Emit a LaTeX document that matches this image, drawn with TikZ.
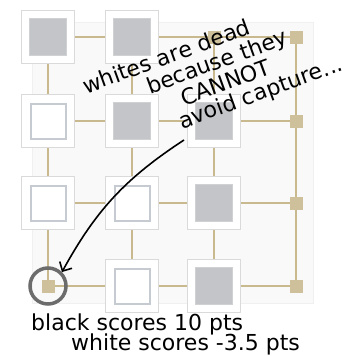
\documentclass[tikz,border=0pt]{standalone}
\usepackage{fontspec}
\setmainfont{DejaVu Sans}
\usepackage{xcolor}
\definecolor{tan}{RGB}{201,185,143}
\definecolor{stonegray}{RGB}{195,197,200}
\definecolor{rimgray}{RGB}{218,218,218}
\definecolor{rimblue}{RGB}{197,203,209}
\usetikzlibrary{arrows.meta,positioning,decorations.text}
\newcommand{\hand}{\fontsize{22}{26}\selectfont}

\tikzset{
    cell/.style={draw=rimgray, line width=1.5pt, fill=white, minimum size=53pt, inner sep=0pt},
    blackstone/.style={draw=stonegray!80, line width=1pt, fill=stonegray, minimum size=37pt, inner sep=0pt},
    whitestone/.style={draw=rimblue, line width=2pt, fill=white, minimum size=35pt, inner sep=0pt},
    post/.style={fill=tan!90, minimum size=13pt, inner sep=0pt},
    rule/.style={tan, line width=1.8pt},
    note/.style={font=\hand, anchor=base west, inner sep=0pt},
    tilted/.style={decorate, decoration={text along path, text={|\hand|#1}, text align=left}},
}

\begin{document}
\begin{tikzpicture}[x=1pt, y=1pt]
    \useasboundingbox (0,0) rectangle (349,-356);

    % Board panel
    \draw[gray!12, fill=gray!5] (32,-22) rectangle (313,-303);

    % Grid points
    \foreach \x [count=\i] in {48,132,214,296}
        \foreach \y [count=\j] in {37,121,203,286}
            \coordinate (g\j\i) at (\x,-\y);

    % Grid lines
    \foreach \j in {1,...,4} {
        \draw[rule] (g\j1) -- (g\j4);
        \draw[rule] (g1\j) -- (g4\j);
    }

    % Row 1
    \node[cell] (c11) at (g11) {}; \node[blackstone] (s11) at (c11) {};
    \node[cell] (c12) at (g12) {}; \node[blackstone] (s12) at (c12) {};
    \node[post] (p13) at (g13) {};
    \node[post] (p14) at (g14) {};

    % Row 2
    \node[cell] (c21) at (g21) {}; \node[whitestone] (s21) at (c21) {};
    \node[cell] (c22) at (g22) {}; \node[blackstone] (s22) at (c22) {};
    \node[cell] (c23) at (g23) {}; \node[blackstone] (s23) at (c23) {};
    \node[post] (p24) at (g24) {};

    % Row 3
    \node[cell] (c31) at (g31) {}; \node[whitestone] (s31) at (c31) {};
    \node[cell] (c32) at (g32) {}; \node[whitestone] (s32) at (c32) {};
    \node[cell] (c33) at (g33) {}; \node[blackstone] (s33) at (c33) {};
    \node[post] (p34) at (g34) {};

    % Row 4
    \node[post] (p41) at (g41) {};
    \node[cell] (c42) at (g42) {}; \node[whitestone] (s42) at (c42) {};
    \node[cell] (c43) at (g43) {}; \node[blackstone] (s43) at (c43) {};
    \node[post] (p44) at (g44) {};

    % Marked point
    \node[circle, draw=gray!85!black, line width=3.5pt, minimum size=36pt, inner sep=0pt] (hole) at (g41) {};

    % Remark, written uphill
    \path[tilted={whites are dead}] (86,-94) -- ++(20:230);
    \path[tilted={because they}] (150,-94) -- ++(20:230);
    \path[tilted={CANNOT}] (184,-106) -- ++(20:230);
    \path[tilted={avoid capture...}] (182,-129) -- ++(20:230);

    % Arrow to the marked point
    \coordinate (tail) at (184,-140);
    \draw[line width=1.6pt, -{Straight Barb[length=7pt, width=14pt]}] (tail) to[bend right=14] (hole.45);

    % Scores
    \node[note] (b1) at (31,-330) {black scores 10 pts};
    \node[note] (b2) at (71,-350) {white scores -3.5 pts};
\end{tikzpicture}
\end{document}
